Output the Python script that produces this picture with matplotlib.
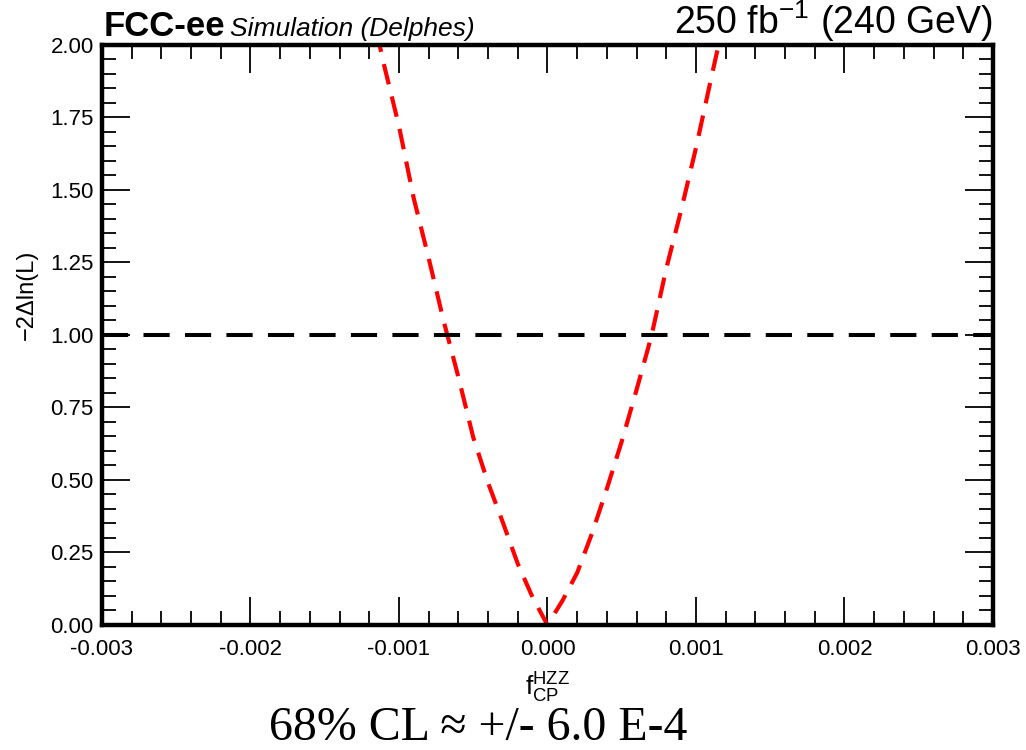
import numpy as np
import matplotlib
matplotlib.use("Agg")
import matplotlib.pyplot as plt
from matplotlib.ticker import MultipleLocator, FormatStrFormatter

plt.rcParams['font.family'] = ['Liberation Sans', 'DejaVu Sans']
plt.rcParams['mathtext.fontset'] = 'custom'
plt.rcParams['mathtext.rm'] = 'Liberation Sans'
plt.rcParams['mathtext.it'] = 'Liberation Sans:italic'
plt.rcParams['axes.unicode_minus'] = False

# likelihood scan points (f_CP^HZZ, -2 Delta ln L)
f_cp = [-0.0012, -0.0011, -0.0010, -0.0009, -0.0008, -0.0007, -0.0006,
        -0.0005, -0.0004, -0.0003, -0.0002, -0.0001, 0.0,
        0.0001, 0.0002, 0.0003, 0.0004, 0.0005, 0.0006, 0.0007,
        0.0008, 0.0009, 0.0010, 0.0011, 0.0012]
nll = [2.16, 1.93, 1.72, 1.47, 1.265, 1.05, 0.855,
       0.647, 0.49, 0.353, 0.211, 0.095, 0.0,
       0.083, 0.18, 0.316, 0.47, 0.633, 0.811, 0.996,
       1.229, 1.43, 1.645, 1.88, 2.11]
cl_level = 1.0
x_range = (-0.003, 0.003)
y_range = (0.0, 2.0)

fig = plt.figure(figsize=(10.26, 7.5), dpi=100)
ax = fig.add_axes([0.0994, 0.1667, 0.8684, 0.7733])

ax.plot(f_cp, nll, color='red', lw=3.0, linestyle=(0, (5.0, 3.0)))
ax.plot(x_range, [cl_level, cl_level], color='black', lw=2.9,
        linestyle=(0, (6.5, 3.8)))

ax.set_xlim(*x_range)
ax.set_ylim(*y_range)

ax.xaxis.set_major_locator(MultipleLocator(0.001))
ax.xaxis.set_minor_locator(MultipleLocator(0.0002))
ax.yaxis.set_major_locator(MultipleLocator(0.25))
ax.yaxis.set_minor_locator(MultipleLocator(0.05))
ax.xaxis.set_major_formatter(FormatStrFormatter('%.3f'))
ax.yaxis.set_major_formatter(FormatStrFormatter('%.2f'))

ax.tick_params(which='both', direction='in', top=True, right=True,
               width=1.3, colors='black', labelsize=16)
ax.tick_params(which='major', length=20)
ax.tick_params(which='minor', length=10)
ax.tick_params(axis='x', pad=10)
ax.tick_params(axis='y', pad=6)
for s in ax.spines.values():
    s.set_linewidth(3.2)

ax.set_xlabel(r'$\mathregular{f_{CP}^{HZZ}}$', fontsize=19, labelpad=8)
ax.set_ylabel('−2Δln(L)', fontsize=17)
ax.yaxis.set_label_coords(-0.072, 0.569)

fig.text(0.101, 0.952, 'FCC-ee', fontsize=25, fontweight='bold',
         ha='left', va='baseline')
fig.text(0.224, 0.952, 'Simulation (Delphes)', fontsize=19,
         fontstyle='italic', ha='left', va='baseline')
fig.text(0.968, 0.955, r'250 fb$^{\mathregular{-1}}$ (240 GeV)', fontsize=27,
         ha='right', va='baseline')

fig.text(0.466, 0.0133, '68% CL ≈ +/- 6.0 E-4', fontsize=34.5,
         family=['Liberation Serif', 'DejaVu Serif'], ha='center', va='baseline')

fig.savefig('out.png', dpi=100)
